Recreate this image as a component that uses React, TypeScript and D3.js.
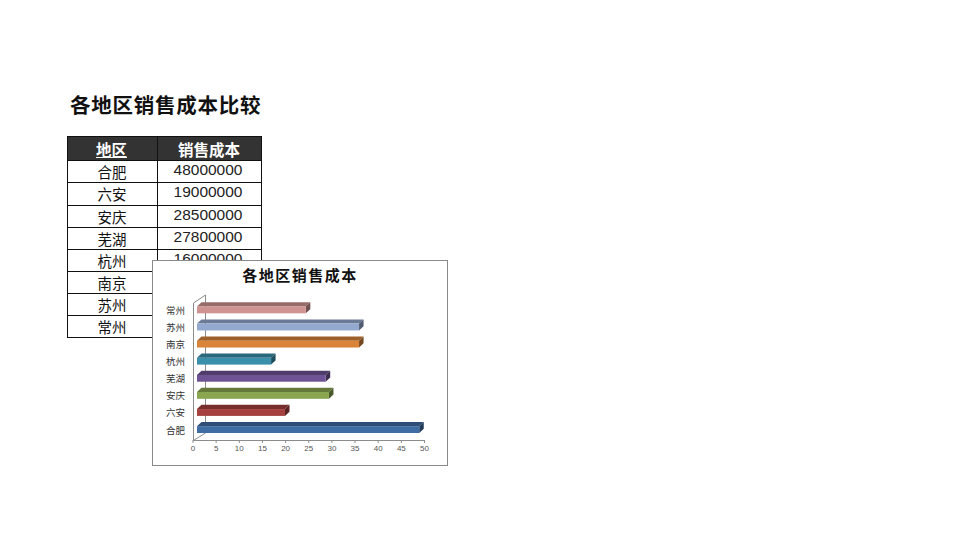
import * as d3 from "d3";

const regions = ["合肥", "六安", "安庆", "芜湖", "杭州", "南京", "苏州", "常州"];
const costs = [48000000, 19000000, 28500000, 27800000, 16000000, 35000000, 35000000, 23500000];
const frontColors = ["#3f6ca3", "#a5403e", "#8aa650", "#6e5394", "#3a8fab", "#d98439", "#93a9d0", "#cf9492"];
const xTicks = [0, 5, 10, 15, 20, 25, 30, 35, 40, 45, 50];

const CJK = "'Noto Sans CJK SC', sans-serif";
const LATIN = "'Liberation Sans', Arial, sans-serif";

const rowTops = [160, 182, 205, 227, 249, 271, 293, 315, 337];

// depth of the fake 3d box
const dx = 4.5;
const dy = 4.2;

export default function App() {
  const x = d3.scaleLinear().domain([0, 50]).range([193, 424.5]);
  const y = d3.scaleBand<string>().domain(regions).range([433, 306.5]).paddingInner(0.6).paddingOuter(0);

  return (
    <svg
      width={960}
      height={540}
      style={{ position: "absolute", left: 0, top: 0, background: "#fff" }}
    >
      <g opacity={0.999}>
        <text x={70} y={113} fontFamily={CJK} fontWeight={700} fontSize={20.5} fill="#111" letterSpacing={0.75}>
          各地区销售成本比较
        </text>

        {/* table */}
        <rect x={67.5} y={136.5} width={194} height={24} fill="#333" stroke="#111" />
        <line x1={157.5} x2={157.5} y1={136} y2={337} stroke="#111" />
        <text x={111.5} y={156} textAnchor="middle" fontFamily={CJK} fontWeight={700} fontSize={15.5} fill="#fff">地区</text>
        <line x1={96} x2={127} y1={157.5} y2={157.5} stroke="#fff" />
        <text x={209} y={156} textAnchor="middle" fontFamily={CJK} fontWeight={700} fontSize={15.5} fill="#fff">销售成本</text>
        <line x1={67.5} x2={67.5} y1={160} y2={337} stroke="#111" />
        <line x1={261.5} x2={261.5} y1={160} y2={337} stroke="#111" />
        {rowTops.slice(1).map((t) => (
          <line key={t} x1={67} x2={262} y1={t + 0.5} y2={t + 0.5} stroke="#111" />
        ))}
        {regions.map((r, i) => (
          <g key={r}>
            <text x={112} y={rowTops[i] + 18} textAnchor="middle" fontFamily={CJK} fontSize={14.5} fill="#111">{r}</text>
            <text x={208} y={rowTops[i] + 15} textAnchor="middle" fontFamily={LATIN} fontSize={15.5} fill="#222">{costs[i]}</text>
          </g>
        ))}

        {/* chart box */}
        <rect x={152.5} y={260.5} width={295} height={205} fill="#fff" stroke="#8a8a8a" />
        <text x={300} y={281} textAnchor="middle" fontFamily={CJK} fontWeight={700} fontSize={15} fill="#111" letterSpacing={1.5}>
          各地区销售成本
        </text>

        {/* walls */}
        <path d="M193.5,440.5V303L205.5,295V433L193.5,440.5" fill="none" stroke="#8c8c8c" />
        <line x1={193} x2={424.5} y1={440.5} y2={440.5} stroke="#8c8c8c" />
        {xTicks.map((t) => (
          <g key={t}>
            <line x1={x(t)} x2={x(t)} y1={440} y2={443} stroke="#8c8c8c" />
            <text x={x(t)} y={451} textAnchor="middle" fontFamily={LATIN} fontSize={8} fill="#555">{t}</text>
          </g>
        ))}

        {/* bars */}
        {regions.map((r, i) => {
          const x0 = x(0) + 4;
          const x1 = x(costs[i] / 1000000) + 4;
          const top = y(r)!;
          const bottom = top + y.bandwidth();
          const color = d3.color(frontColors[i])!;
          return (
            <g key={r}>
              <polygon
                points={`${x0},${top} ${x0 + dx},${top - dy} ${x1 + dx},${top - dy} ${x1},${top}`}
                fill={color.darker(0.9).toString()}
              />
              <polygon
                points={`${x1},${top} ${x1 + dx},${top - dy} ${x1 + dx},${bottom - dy} ${x1},${bottom}`}
                fill={color.darker(1.7).toString()}
              />
              <rect x={x0} y={top} width={x1 - x0} height={y.bandwidth()} fill={frontColors[i]} />
              <text x={185} y={top + y.bandwidth() / 2 + 4} textAnchor="end" fontFamily={CJK} fontSize={9.5} fill="#333">{r}</text>
            </g>
          );
        })}
      </g>
    </svg>
  );
}
